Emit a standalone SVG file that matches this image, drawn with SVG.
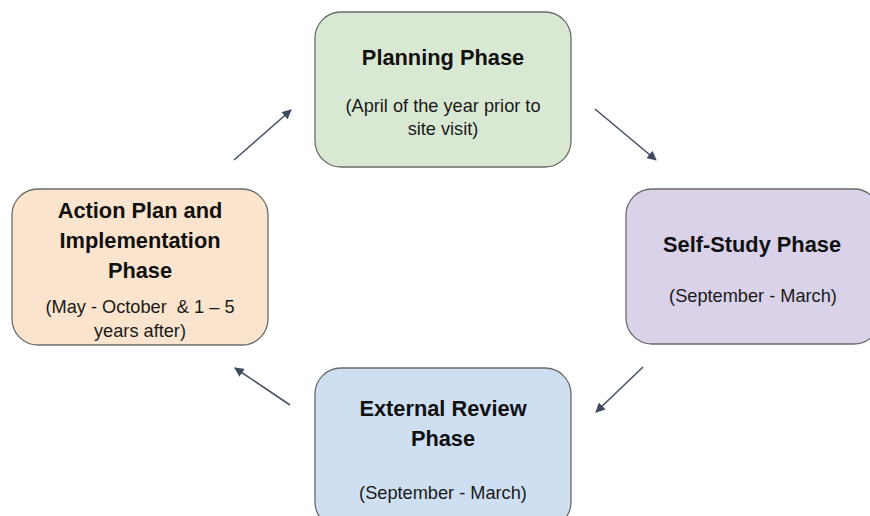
<svg xmlns="http://www.w3.org/2000/svg" width="870" height="516" viewBox="0 0 870 516">
  <defs>
    <style>
      .box { stroke: #6b6b6b; stroke-width: 1.3; }
      .title { font-family: "Liberation Sans", Arial, sans-serif; font-weight: bold; font-size: 21.8px; fill: #111; text-anchor: middle; }
      .sub { font-family: "Liberation Sans", Arial, sans-serif; font-size: 18.2px; fill: #1a1a1a; text-anchor: middle; }
      .conn { stroke: #4a5366; stroke-width: 1.6; fill: none; marker-end: url(#head); }
    </style>
    <marker id="head" viewBox="0 0 10 10" refX="9" refY="5" markerWidth="6" markerHeight="6" orient="auto" markerUnits="strokeWidth">
      <path d="M0,0 L10,5 L0,10 z" fill="#3e4a5e"/>
    </marker>
  </defs>
  <rect width="870" height="516" fill="#ffffff"/>

  <g id="planning">
    <rect class="box" x="315" y="12" width="256" height="155" rx="26" fill="#d9e8d3"/>
    <text class="title" x="443" y="65">Planning Phase</text>
    <text class="sub" x="443" y="112">(April of the year prior to</text>
    <text class="sub" x="443" y="135">site visit)</text>
  </g>

  <g id="self-study">
    <rect class="box" x="626" y="189" width="254" height="155" rx="26" fill="#d9d2e8"/>
    <text class="title" x="752" y="252">Self-Study Phase</text>
    <text class="sub" x="753" y="302">(September - March)</text>
  </g>

  <g id="external-review">
    <rect class="box" x="315" y="368" width="256" height="160" rx="26" fill="#cfdff2"/>
    <text class="title" x="443" y="416">External Review</text>
    <text class="title" x="443" y="446">Phase</text>
    <text class="sub" x="443" y="499">(September - March)</text>
  </g>

  <g id="action-plan">
    <rect class="box" x="12" y="189" width="256" height="156" rx="26" fill="#fbe4cd"/>
    <text class="title" x="140" y="218">Action Plan and</text>
    <text class="title" x="140" y="248">Implementation</text>
    <text class="title" x="140" y="278">Phase</text>
    <text class="sub" x="140" y="313" xml:space="preserve">(May - October  &amp; 1 – 5</text>
    <text class="sub" x="140" y="337">years after)</text>
  </g>

  <g id="connectors">
    <line class="conn" x1="234" y1="160" x2="291" y2="110"/>
    <line class="conn" x1="595" y1="109" x2="656" y2="160"/>
    <line class="conn" x1="643" y1="367" x2="596" y2="412"/>
    <line class="conn" x1="290" y1="405" x2="235" y2="368"/>
  </g>
</svg>
